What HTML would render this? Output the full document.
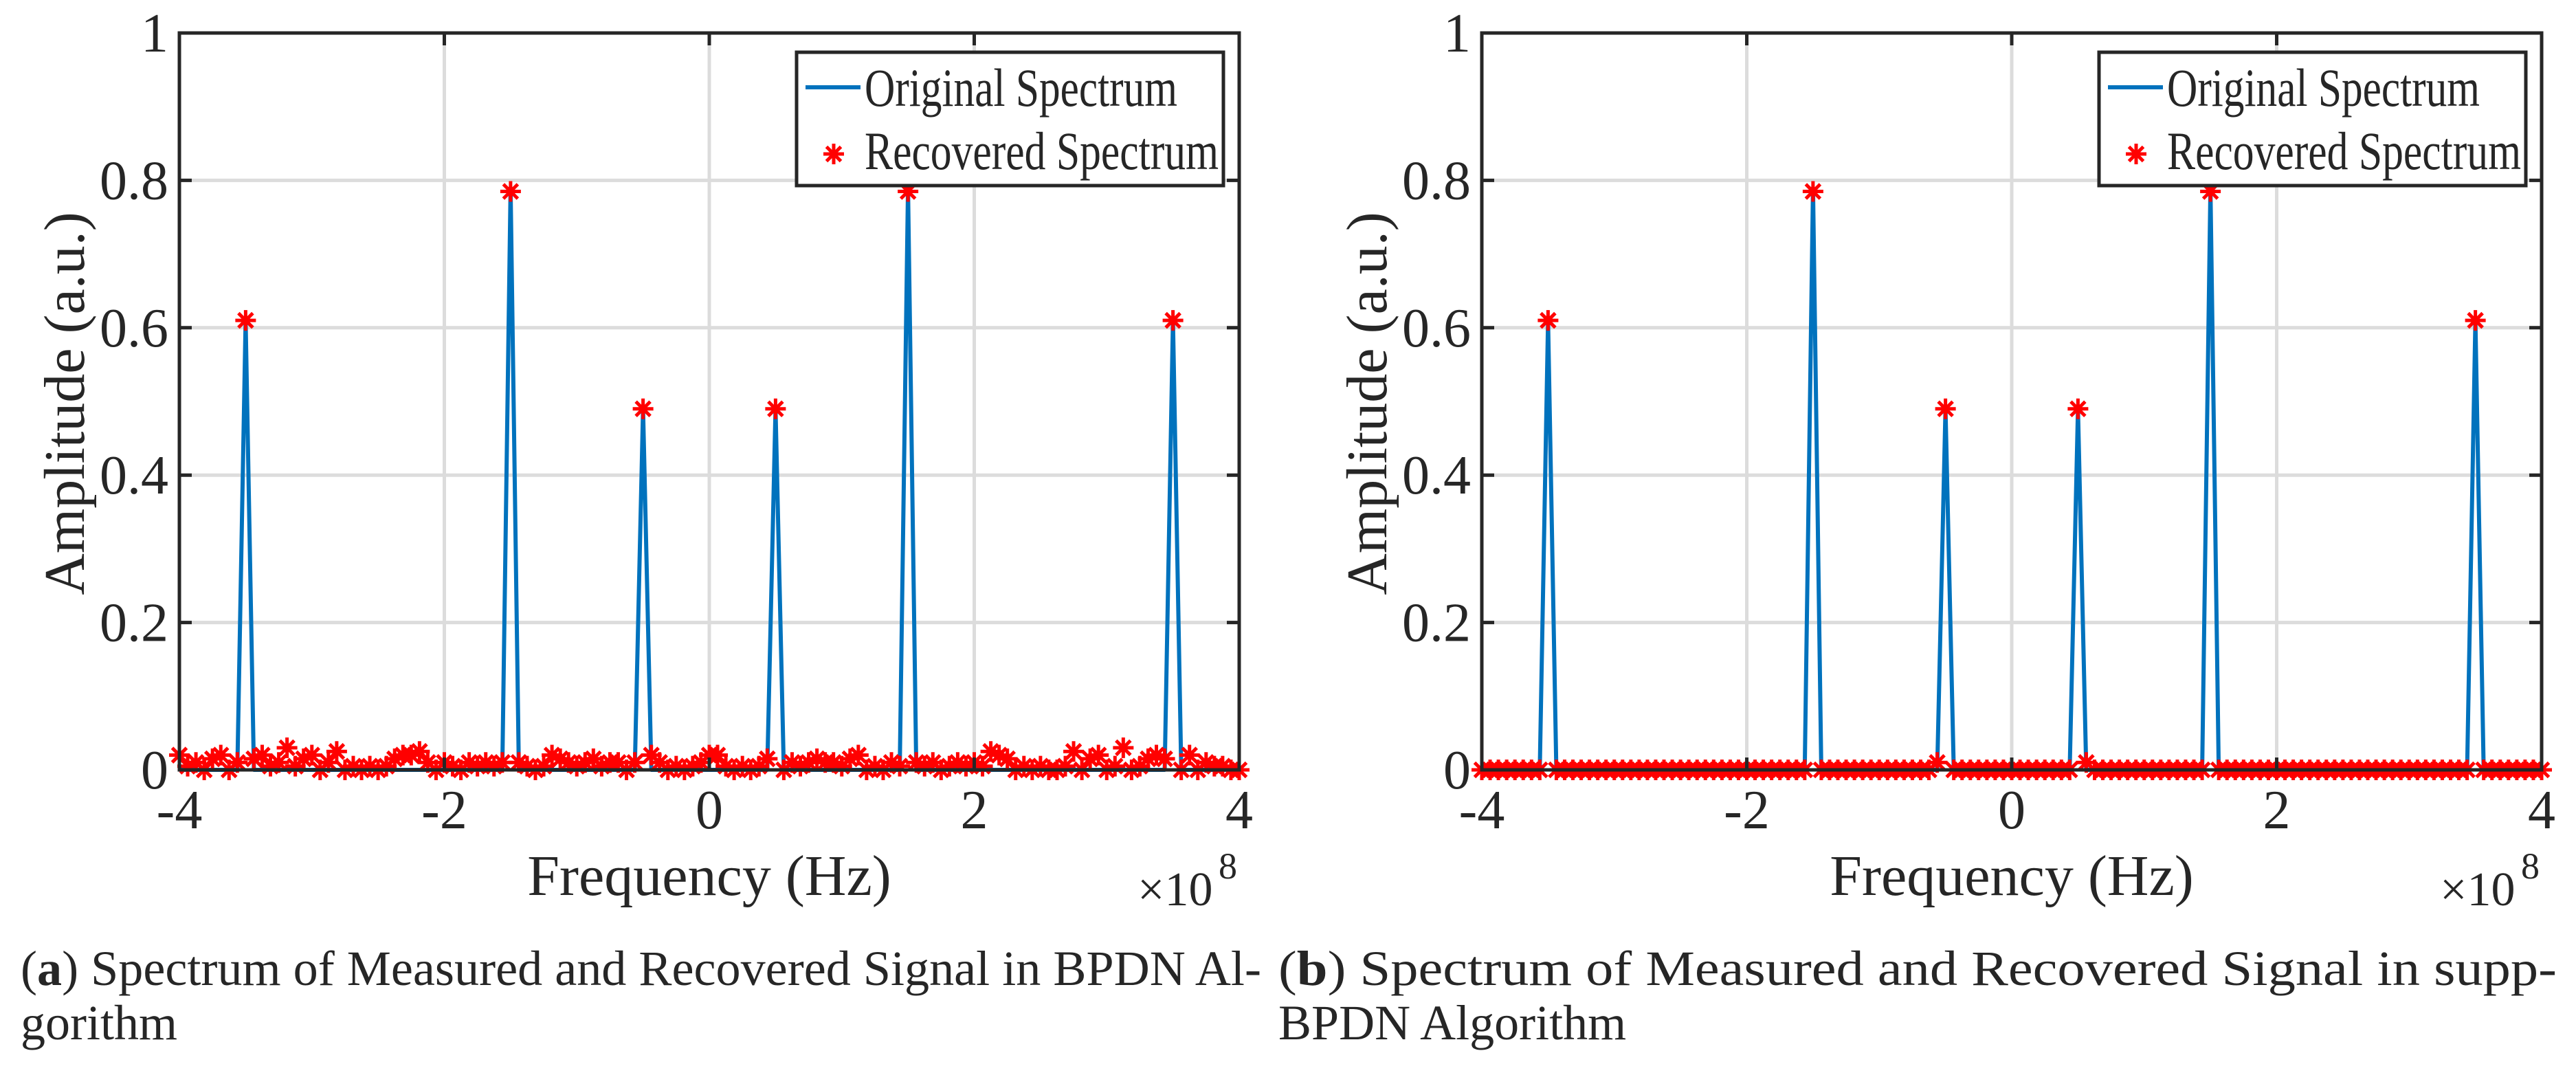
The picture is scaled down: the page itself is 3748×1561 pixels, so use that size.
<!DOCTYPE html>
<html><head><meta charset="utf-8"><style>
html,body{margin:0;padding:0;background:#fff}
svg{display:block}
svg text{font-family:"Liberation Serif","DejaVu Serif",serif;fill:#262626}
</style></head><body>
<svg id="fig" width="3748" height="1561" viewBox="0 0 3748 1561" xmlns="http://www.w3.org/2000/svg"></svg>
<script>
// ---- data ----
const xStart = -4, xStep = 0.0625, nPts = 129;
const xTicks = [-4, -2, 0, 2, 4];
const xTickLabels = ["-4", "-2", "0", "2", "4"];
const yTicks = [0, 0.2, 0.4, 0.6, 0.8, 1];
const yTickLabels = ["0", "0.2", "0.4", "0.6", "0.8", "1"];
const peakFreqs = [-3.5, -1.5, -0.5, 0.5, 1.5, 3.5];
const peakAmps = [0.61, 0.79, 0.49, 0.49, 0.79, 0.61];
const recoveredA = [
0.02,0.005,0.01,0.0,0.015,0.02,0.0,0.01,0.61,0.015,0.02,0.005,0.01,0.03,0.005,0.015,
0.02,0.0,0.01,0.025,0.0,0.005,0.0,0.005,0.0,0.005,0.015,0.02,0.02,0.025,0.01,0.0,
0.01,0.005,0.0,0.01,0.005,0.01,0.005,0.01,0.785,0.01,0.005,0.0,0.005,0.02,0.015,0.01,
0.005,0.01,0.015,0.005,0.01,0.01,0.0,0.01,0.49,0.02,0.01,0.0,0.005,0.0,0.005,0.01,
0.02,0.02,0.005,0.0,0.005,0.0,0.005,0.015,0.49,0.0,0.01,0.005,0.01,0.015,0.01,0.01,
0.005,0.015,0.02,0.0,0.005,0.0,0.01,0.005,0.785,0.01,0.005,0.01,0.0,0.005,0.01,0.005,
0.01,0.005,0.025,0.02,0.015,0.0,0.005,0.0,0.005,0.0,0.0,0.005,0.025,0.0,0.015,0.02,
0.0,0.005,0.03,0.0,0.005,0.015,0.02,0.015,0.61,0.0,0.02,0.0,0.01,0.005,0.005,0.0,
0.0];
const recoveredB = [
0,0,0,0,0,0,0,0,0.61,0,0,0,0,0,0,0,
0,0,0,0,0,0,0,0,0,0,0,0,0,0,0,0,
0,0,0,0,0,0,0,0,0.785,0,0,0,0,0,0,0,
0,0,0,0,0,0,0,0.01,0.49,0,0,0,0,0,0,0,
0,0,0,0,0,0,0,0,0.49,0.01,0,0,0,0,0,0,
0,0,0,0,0,0,0,0,0.785,0,0,0,0,0,0,0,
0,0,0,0,0,0,0,0,0,0,0,0,0,0,0,0,
0,0,0,0,0,0,0,0,0.61,0,0,0,0,0,0,0,
0];
const legendLabels = ["Original Spectrum", "Recovered Spectrum"];

// ---- drawing ----
const NS = "http://www.w3.org/2000/svg";
const svg = document.getElementById("fig");
const FONT = '"Liberation Serif", "DejaVu Serif", serif';
function mk(tag, attrs, parent) {
  const e = document.createElementNS(NS, tag);
  for (const k in attrs) e.setAttribute(k, attrs[k]);
  if (tag === "text") e.setAttribute("font-family", FONT);
  (parent || svg).appendChild(e);
  return e;
}
function panel(ox, cx0, rec, tag, capLine1, capLine2, cap1Len) {
  const L = ox + 261, R = ox + 1803, T = 48, B = 1120;
  const sx = v => L + (v + 4) / 8 * (R - L);
  const sy = v => B - v * (B - T);
  const g = mk("g", {});
  
  
  xTicks.forEach(t => { if (t > -4 && t < 4) { const l = mk("line", {x1: sx(t), x2: sx(t), y1: T, y2: B, stroke: "#dcdcdc", "stroke-width": 5}, g);
      } });
  yTicks.forEach(t => { if (t > 0 && t < 1) { const l = mk("line", {x1: L, x2: R, y1: sy(t), y2: sy(t), stroke: "#dcdcdc", "stroke-width": 5}, g);
      } });
  let pts = [];
  for (let i = 0; i < nPts; i++) {
    const x = xStart + i * xStep;
    let v = 0;
    peakFreqs.forEach((p, k) => { if (Math.abs(x - p) < 1e-6) v = peakAmps[k]; });
    pts.push(sx(x) + "," + sy(v));
  }
  const line = mk("polyline", {points: pts.join(" "), fill: "none", stroke: "#0072bd", "stroke-width": 6, "stroke-linejoin": "round"}, g);
  
  
  const star = (cx, cy, r, parent) => {
    return mk("path", {d: `M${cx - r},${cy}H${cx + r}M${cx},${cy - r}V${cy + r}M${cx - r * 0.7},${cy - r * 0.7}L${cx + r * 0.7},${cy + r * 0.7}M${cx - r * 0.7},${cy + r * 0.7}L${cx + r * 0.7},${cy - r * 0.7}`,
      stroke: "#ff0000", "stroke-width": 5, fill: "none"}, parent);
  };
  for (let i = 0; i < rec.length; i++) {
    const s = star(sx(xStart + i * xStep), sy(rec[i]), 15, g);
    
    
  }
  const box = mk("rect", {x: L, y: T, width: R - L, height: B - T, fill: "none", stroke: "#262626", "stroke-width": 5}, g);
  
  
  xTicks.forEach((t, k) => {
    mk("line", {x1: sx(t), x2: sx(t), y1: B, y2: B - 18, stroke: "#262626", "stroke-width": 5}, g);
    mk("line", {x1: sx(t), x2: sx(t), y1: T, y2: T + 18, stroke: "#262626", "stroke-width": 5}, g);
    const tx = mk("text", {x: sx(t), y: 1205, "font-size": 80, "text-anchor": "middle"}, g);
    tx.textContent = xTickLabels[k];
    
    
  });
  yTicks.forEach((t, k) => {
    mk("line", {x1: L, x2: L + 18, y1: sy(t), y2: sy(t), stroke: "#262626", "stroke-width": 5}, g);
    mk("line", {x1: R, x2: R - 18, y1: sy(t), y2: sy(t), stroke: "#262626", "stroke-width": 5}, g);
    const tx = mk("text", {x: L - 16, y: sy(t) + 27, "font-size": 80, "text-anchor": "end"}, g);
    tx.textContent = yTickLabels[k];
    
    
  });
  const xl = mk("text", {x: (L + R) / 2, y: 1302, "font-size": 84, "text-anchor": "middle"}, g);
  xl.textContent = "Frequency (Hz)";
  
  
  const ex = mk("text", {x: ox + 1655, y: 1317, "font-size": 70}, g);
  ex.textContent = "×10";
  
  
  const ex8 = mk("text", {x: ox + 1773, y: 1278, "font-size": 54}, g);
  ex8.textContent = "8";
  
  
  const yl = mk("text", {x: 0, y: 0, "font-size": 84, "text-anchor": "middle", transform: `translate(${ox + 122},${(T + B) / 2 + 3}) rotate(-90)`}, g);
  yl.textContent = "Amplitude (a.u.)";
  
  
  const lg = mk("g", {}, g);
  
  
  mk("rect", {x: ox + 1159, y: 76, width: 621, height: 194, fill: "#fff", stroke: "#262626", "stroke-width": 5}, lg);
  const ll = mk("line", {x1: ox + 1172, x2: ox + 1252, y1: 127, y2: 127, stroke: "#0072bd", "stroke-width": 6}, lg);
  
  
  const lt1 = mk("text", {x: ox + 1258, y: 154, "font-size": 78, textLength: 455, lengthAdjust: "spacingAndGlyphs", fill: "#000"}, lg);
  lt1.textContent = legendLabels[0];
  
  
  const ls = star(ox + 1213, 224, 15, lg);
  
  
  const lt2 = mk("text", {x: ox + 1258, y: 246, "font-size": 78, textLength: 515, lengthAdjust: "spacingAndGlyphs", fill: "#000"}, lg);
  lt2.textContent = legendLabels[1];
  
  
  const c1 = mk("text", {x: cx0, y: 1433, "font-size": 72, textLength: cap1Len, lengthAdjust: "spacingAndGlyphs", fill: "#000"}, g);
  c1.innerHTML = `(<tspan font-weight="bold">${tag}</tspan>) ${capLine1}`;
  
  
  const c2 = mk("text", {x: cx0, y: 1512, "font-size": 72, fill: "#000"}, g);
  c2.textContent = capLine2;
  
  
}
panel(0, 30, recoveredA, "a", "Spectrum of Measured and Recovered Signal in BPDN Al-", "gorithm", 1805);
panel(1895, 1860, recoveredB, "b", "Spectrum of Measured and Recovered Signal in supp-", "BPDN Algorithm", 1860);
</script>
</body></html>
